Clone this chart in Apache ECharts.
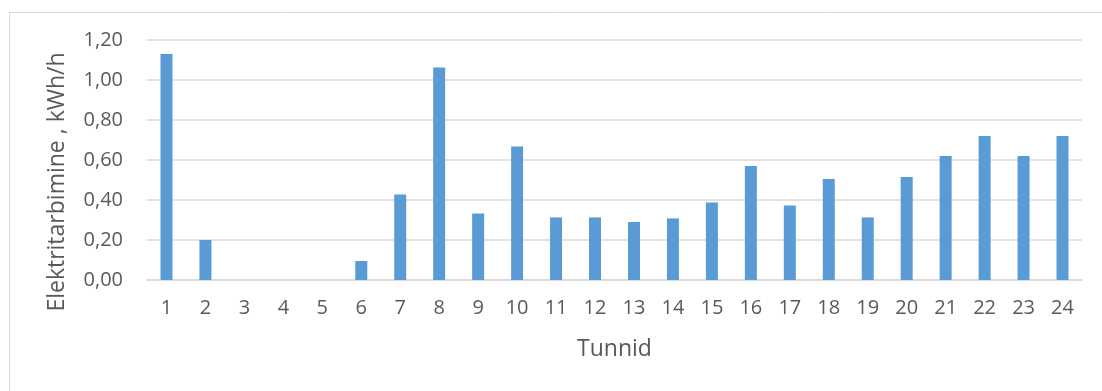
<!DOCTYPE html>
<html>
<head>
<meta charset="utf-8">
<script src="https://cdn.jsdelivr.net/npm/echarts@6/dist/echarts.min.js"></script>
<style>
  html, body { margin: 0; padding: 0; background: #fff; }
  #chart { width: 1102px; height: 391px; }
</style>
</head>
<body>
<div id="chart"></div>
<script>
// tunnid 1..24
const hours = ['1', '2', '3', '4', '5', '6', '7', '8', '9', '10', '11', '12',
  '13', '14', '15', '16', '17', '18', '19', '20', '21', '22', '23', '24']
// elektritarbimine, kWh/h (loetud pildilt)
const consumption = [1.13, 0.20, 0, 0, 0, 0.095, 0.428, 1.063, 0.332, 0.668, 0.313, 0.313,
  0.29, 0.308, 0.388, 0.57, 0.372, 0.505, 0.313, 0.515, 0.62, 0.72, 0.62, 0.72]

const axisFont = 'Open Sans, Noto Sans, sans-serif'
const textColor = '#595959'

const chart = echarts.init(document.getElementById('chart'))
chart.setOption({
  animation: false,
  graphic: [{
    type: 'rect',
    left: 7, top: 10,
    shape: { width: 1200, height: 500 },
    style: { fill: 'none', stroke: '#d9d9d9', lineWidth: 1 },
    silent: true
  }],
  grid: { left: 147, right: 20, top: 40, bottom: 111 },
  xAxis: {
    type: 'category',
    data: hours,
    name: 'Tunnid',
    nameLocation: 'middle',
    nameGap: 58,
    nameTextStyle: { fontSize: 23, color: textColor, fontFamily: axisFont },
    axisLine: { lineStyle: { color: '#d9d9d9', width: 1.5 } },
    axisTick: { show: false },
    axisLabel: { fontSize: 20, color: textColor, fontFamily: axisFont, margin: 18 }
  },
  yAxis: {
    type: 'value',
    min: 0,
    max: 1.2,
    interval: 0.2,
    name: 'Elektritarbimine , kWh/h',
    nameLocation: 'middle',
    nameGap: 78,
    // Excel centres the title a bit lower than the plot middle
    nameTextStyle: { fontSize: 23, color: textColor, fontFamily: axisFont, padding: [0, 44, 0, 0] },
    axisLine: { show: false },
    axisTick: { show: false },
    splitLine: { lineStyle: { color: '#d9d9d9', width: 1.5 } },
    axisLabel: {
      fontSize: 20, color: textColor, fontFamily: axisFont, margin: 24,
      formatter: v => v.toFixed(2).replace('.', ',')
    }
  },
  series: [{
    type: 'bar',
    data: consumption,
    barWidth: 12,
    itemStyle: { color: '#5b9bd5' }
  }]
})
</script>
</body>
</html>
